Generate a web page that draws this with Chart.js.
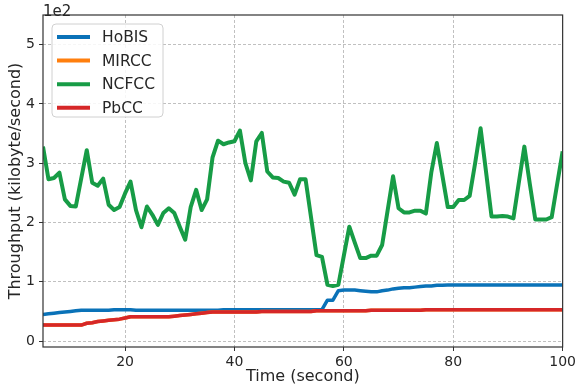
<!DOCTYPE html>
<html>
<head>
<meta charset="utf-8">
<script src="https://cdn.jsdelivr.net/npm/chart.js@4"></script>
<style>
  body { margin: 0; background: #fff; }
  canvas { display: block; }
</style>
</head>
<body>
<canvas id="tput" width="579" height="388"></canvas>
<script>
// time axis (seconds)
let time = [
  5, 6, 7, 8, 9, 10, 11, 12, 13, 14,
  15, 16, 17, 18, 19, 20, 21, 22, 23, 24,
  25, 26, 27, 28, 29, 30, 31, 32, 33, 34,
  35, 36, 37, 38, 39, 40, 41, 42, 43, 44,
  45, 46, 47, 48, 49, 50, 51, 52, 53, 54,
  55, 56, 57, 58, 59, 60, 61, 62, 63, 64,
  65, 66, 67, 68, 69, 70, 71, 72, 73, 74,
  75, 76, 77, 78, 79, 80, 81, 82, 83, 84,
  85, 86, 87, 88, 89, 90, 91, 92, 93, 94,
  95, 96, 97, 98, 99, 100
];

// throughput, in units of 1e2 kilobyte/second
let hobis = [
  0.45, 0.46, 0.47, 0.48, 0.49, 0.50, 0.51, 0.52, 0.52, 0.52,
  0.52, 0.52, 0.52, 0.53, 0.53, 0.53, 0.53, 0.52, 0.52, 0.52,
  0.52, 0.52, 0.52, 0.52, 0.52, 0.52, 0.52, 0.52, 0.52, 0.52,
  0.52, 0.52, 0.52, 0.53, 0.53, 0.53, 0.53, 0.53, 0.53, 0.53,
  0.53, 0.53, 0.53, 0.53, 0.53, 0.53, 0.53, 0.53, 0.53, 0.53,
  0.53, 0.53, 0.69, 0.69, 0.85, 0.86, 0.86, 0.86, 0.85, 0.84,
  0.83, 0.83, 0.85, 0.86, 0.88, 0.89, 0.90, 0.90, 0.91, 0.92,
  0.93, 0.93, 0.94, 0.94, 0.945, 0.945, 0.945, 0.945, 0.945, 0.945,
  0.945, 0.945, 0.945, 0.945, 0.945, 0.945, 0.945, 0.945, 0.945, 0.945,
  0.945, 0.945, 0.945, 0.945, 0.945, 0.945
];

let mircc = [
  0.27, 0.27, 0.27, 0.27, 0.27, 0.27, 0.27, 0.27, 0.30, 0.31,
  0.33, 0.34, 0.35, 0.36, 0.37, 0.39, 0.41, 0.41, 0.41, 0.41,
  0.41, 0.41, 0.41, 0.41, 0.42, 0.43, 0.44, 0.45, 0.46, 0.47,
  0.48, 0.49, 0.49, 0.49, 0.49, 0.49, 0.49, 0.49, 0.49, 0.49,
  0.50, 0.50, 0.50, 0.50, 0.50, 0.50, 0.50, 0.50, 0.50, 0.50,
  0.51, 0.51, 0.51, 0.51, 0.51, 0.51, 0.51, 0.51, 0.51, 0.51,
  0.52, 0.52, 0.52, 0.52, 0.52, 0.52, 0.52, 0.52, 0.52, 0.52,
  0.53, 0.53, 0.53, 0.53, 0.53, 0.53, 0.53, 0.53, 0.53, 0.53,
  0.53, 0.53, 0.53, 0.53, 0.53, 0.53, 0.53, 0.53, 0.53, 0.53,
  0.53, 0.53, 0.53, 0.53, 0.53, 0.53
];

let ncfcc = [
  3.28, 2.73, 2.75, 2.84, 2.39, 2.28, 2.27, 2.75, 3.22, 2.67,
  2.62, 2.74, 2.30, 2.21, 2.26, 2.49, 2.69, 2.21, 1.92, 2.27,
  2.13, 1.96, 2.16, 2.24, 2.16, 1.93, 1.71, 2.26, 2.55, 2.21,
  2.39, 3.10, 3.38, 3.32, 3.35, 3.37, 3.55, 3.00, 2.71, 3.37,
  3.51, 2.86, 2.76, 2.75, 2.69, 2.67, 2.47, 2.73, 2.73, 2.09,
  1.45, 1.42, 0.95, 0.93, 0.95, 1.44, 1.93, 1.66, 1.40, 1.40,
  1.44, 1.44, 1.62, 2.20, 2.78, 2.24, 2.17, 2.17, 2.20, 2.20,
  2.15, 2.85, 3.34, 2.80, 2.26, 2.26, 2.38, 2.38, 2.45, 3.00,
  3.59, 2.85, 2.10, 2.10, 2.11, 2.10, 2.07, 2.68, 3.28, 2.65,
  2.05, 2.05, 2.05, 2.09, 2.65, 3.20
];

let pbcc = [
  0.27, 0.27, 0.27, 0.27, 0.27, 0.27, 0.27, 0.27, 0.30, 0.31,
  0.33, 0.34, 0.35, 0.36, 0.37, 0.39, 0.41, 0.41, 0.41, 0.41,
  0.41, 0.41, 0.41, 0.41, 0.42, 0.43, 0.44, 0.45, 0.46, 0.47,
  0.48, 0.49, 0.49, 0.49, 0.49, 0.49, 0.49, 0.49, 0.49, 0.49,
  0.50, 0.50, 0.50, 0.50, 0.50, 0.50, 0.50, 0.50, 0.50, 0.50,
  0.51, 0.51, 0.51, 0.51, 0.51, 0.51, 0.51, 0.51, 0.51, 0.51,
  0.52, 0.52, 0.52, 0.52, 0.52, 0.52, 0.52, 0.52, 0.52, 0.52,
  0.53, 0.53, 0.53, 0.53, 0.53, 0.53, 0.53, 0.53, 0.53, 0.53,
  0.53, 0.53, 0.53, 0.53, 0.53, 0.53, 0.53, 0.53, 0.53, 0.53,
  0.53, 0.53, 0.53, 0.53, 0.53, 0.53
];

let xTicks = [20, 40, 60, 80, 100];
let yTicks = [0, 1, 2, 3, 4, 5];

let font = 'DejaVu Sans';
let textColor = '#262626';

function pts(arr) {
  return arr.map((v, i) => ({ x: time[i], y: v }));
}

function line(label, arr, color, width, order) {
  return {
    label: label,
    data: pts(arr),
    borderColor: color,
    backgroundColor: color,
    borderWidth: width,
    pointRadius: 0,
    tension: 0,
    borderJoinStyle: 'round',
    order: order
  };
}

// frame, "1e2" offset text and the boxed legend, matplotlib style
let extras = {
  id: 'extras',
  afterDatasetsDraw(chart) {
    let ctx = chart.ctx;
    let a = chart.chartArea;
    ctx.save();
    ctx.strokeStyle = '#333';
    ctx.lineWidth = 1.2;
    ctx.strokeRect(a.left, a.top, a.right - a.left, a.bottom - a.top);
    ctx.restore();
  },
  afterDraw(chart) {
    let ctx = chart.ctx;
    let a = chart.chartArea;
    ctx.save();
    ctx.fillStyle = textColor;
    ctx.font = '15px "' + font + '"';
    ctx.textAlign = 'left';
    ctx.textBaseline = 'alphabetic';
    ctx.fillText('1e2', a.left, a.top + 1);

    // legend box
    let bx = a.left + 9, by = a.top + 9, bw = 111, bh = 93;
    ctx.beginPath();
    ctx.roundRect(bx, by, bw, bh, 4);
    ctx.fillStyle = 'rgba(255,255,255,0.85)';
    ctx.fill();
    ctx.strokeStyle = '#d0d0d0';
    ctx.lineWidth = 1;
    ctx.stroke();

    let sets = chart.data.datasets;
    ctx.textBaseline = 'middle';
    ctx.font = '15.5px "' + font + '"';
    sets.forEach((ds, i) => {
      let y = by + 13 + i * 23.6;
      ctx.beginPath();
      ctx.moveTo(bx + 5, y);
      ctx.lineTo(bx + 38, y);
      ctx.strokeStyle = ds.borderColor;
      ctx.lineWidth = 4;
      ctx.stroke();
      ctx.fillStyle = textColor;
      ctx.fillText(ds.label, bx + 50, y + 1);
    });
    ctx.restore();
  }
};

let tputChart = new Chart(document.getElementById('tput').getContext('2d'), {
  type: 'line',
  data: {
    datasets: [
      line('HoBIS', hobis, '#0a72b8', 3.5, 4),
      line('MIRCC', mircc, '#ff7f0e', 3.5, 3),
      line('NCFCC', ncfcc, '#179c46', 4, 2),
      line('PbCC', pbcc, '#d62728', 3.5, 1)
    ]
  },
  options: {
    responsive: false,
    devicePixelRatio: 1,
    animation: false,
    layout: {
      padding: { left: 0, right: 14, top: 15, bottom: 0 }
    },
    plugins: {
      legend: { display: false },
      tooltip: { enabled: false }
    },
    scales: {
      x: {
        type: 'linear',
        min: 5,
        max: 100,
        afterBuildTicks: s => { s.ticks = xTicks.map(v => ({ value: v })); },
        afterFit: s => { s.height = 41; },
        ticks: {
          font: { family: font, size: 14 },
          color: textColor,
          padding: 3,
          maxRotation: 0
        },
        grid: {
          color: '#b0b0b0',
          lineWidth: 0.8,
          tickColor: '#333',
          tickLength: 4,
          tickWidth: 1
        },
        border: { display: false, dash: [3, 2] },
        title: {
          display: true,
          text: 'Time (second)',
          font: { family: font, size: 16 },
          color: textColor,
          padding: { top: 0, bottom: 2 }
        }
      },
      y: {
        min: -0.1,
        max: 5.5,
        afterBuildTicks: s => { s.ticks = yTicks.map(v => ({ value: v })); },
        afterFit: s => { s.width = 43; },
        ticks: {
          font: { family: font, size: 14 },
          color: textColor,
          padding: 4
        },
        grid: {
          color: '#b0b0b0',
          lineWidth: 0.8,
          tickColor: '#333',
          tickLength: 4,
          tickWidth: 1
        },
        border: { display: false, dash: [3, 2] },
        title: {
          display: true,
          text: 'Throughput (kilobyte/second)',
          font: { family: font, size: 16 },
          color: textColor,
          padding: { top: 6, bottom: 0 }
        }
      }
    }
  },
  plugins: [extras]
});
</script>
</body>
</html>
